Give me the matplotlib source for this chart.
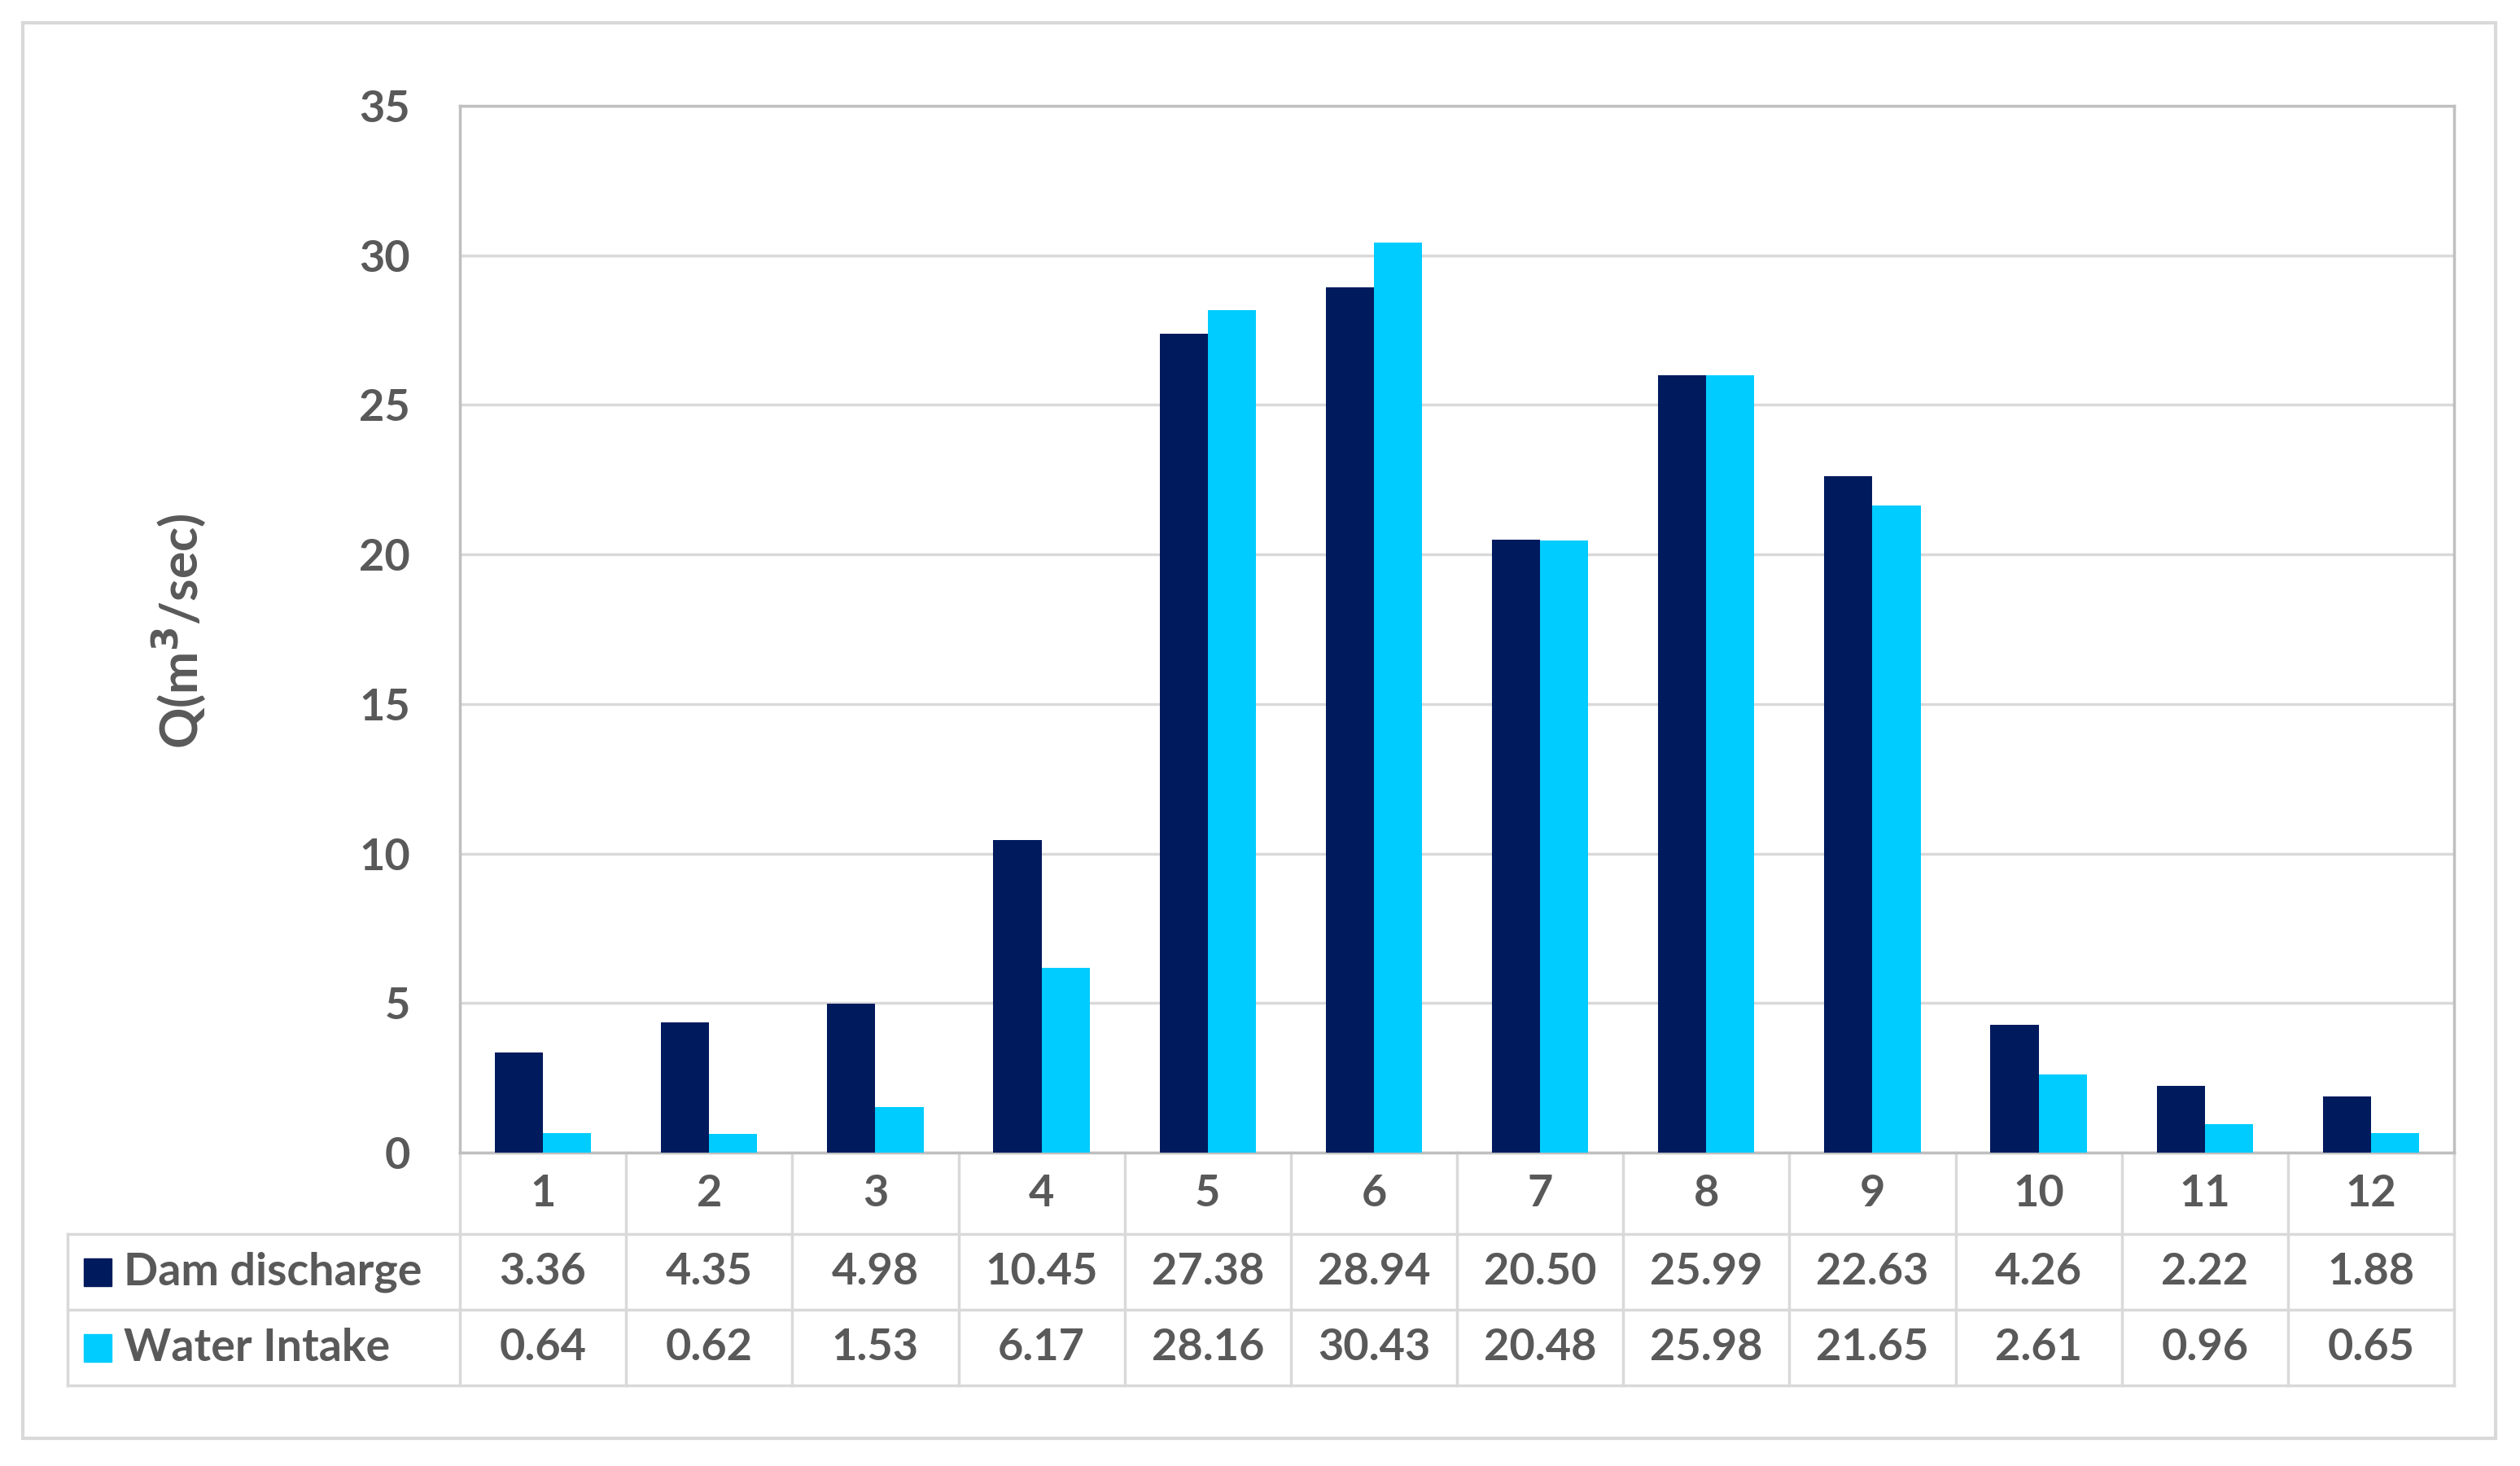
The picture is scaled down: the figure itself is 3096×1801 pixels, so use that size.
import matplotlib
matplotlib.use("Agg")
import matplotlib.pyplot as plt
import matplotlib.transforms as mtransforms
from matplotlib.lines import Line2D
from matplotlib.patches import Rectangle
import numpy as np

# ---- data ----
months = ["1", "2", "3", "4", "5", "6", "7", "8", "9", "10", "11", "12"]
dam_discharge = [3.36, 4.35, 4.98, 10.45, 27.38, 28.94, 20.50, 25.99, 22.63, 4.26, 2.22, 1.88]
water_intake = [0.64, 0.62, 1.53, 6.17, 28.16, 30.43, 20.48, 25.98, 21.65, 2.61, 0.96, 0.65]
series_names = ["Dam discharge", "Water Intake"]
y_ticks = [0, 5, 10, 15, 20, 25, 30, 35]

# ---- style ----
DARK = "#001A5E"
LIGHT = "#00CCFF"
TXT = "#595959"
GRID = "#D9D9D9"
BORDER = "#BFBFBF"
FONT = ["Lato", "DejaVu Sans"]
FS = 39

W, H = 3096, 1801
fig = plt.figure(figsize=(W / 100, H / 100), dpi=100)

def fx(px):
    return px / W

def fy(py):
    return 1 - py / H

left, right, top, bottom = 565, 3015, 130, 1416
ax = fig.add_axes([fx(left), fy(bottom), fx(right) - fx(left), fy(top) - fy(bottom)])

x = np.arange(len(months))
bw = 0.29
ax.bar(x - bw / 2, dam_discharge, width=bw, color=DARK, zorder=3)
ax.bar(x + bw / 2, water_intake, width=bw, color=LIGHT, zorder=3)

ax.set_xlim(-0.5, len(months) - 0.5)
ax.set_ylim(0, 35)
ax.set_yticks(y_ticks)
ax.set_yticklabels([str(t) for t in y_ticks], fontsize=FS, fontweight="bold",
                   color=TXT, family=FONT)
ax.tick_params(axis="y", length=0, pad=44)
ax.set_xticks([])
ax.yaxis.grid(True, color=GRID, linewidth=2.5, zorder=0)
for s in ["left", "top", "right", "bottom"]:
    ax.spines[s].set_color(BORDER)
    ax.spines[s].set_linewidth(2.5)

fig.text(fx(221), fy(775), "Q(m$\\mathbf{^3}$/sec)", rotation=90, ha="center", va="center",
         fontsize=45, fontweight="bold", color=TXT, family=FONT)

# ---- data table ----
tr = mtransforms.blended_transform_factory(ax.transData, fig.transFigure)
row_y = [1416, 1516, 1609, 1702]
edges = np.arange(len(months) + 1) - 0.5
tbl_left = 83
lw = 2.5

for ry in row_y[1:]:
    fig.add_artist(Line2D([fx(tbl_left), fx(right)], [fy(ry)] * 2, color=GRID, lw=lw))
fig.add_artist(Line2D([fx(tbl_left)] * 2, [fy(row_y[1]), fy(row_y[3])], color=GRID, lw=lw))
for e in edges:
    ax.plot([e, e], [fy(row_y[0]), fy(row_y[3])], color=GRID, lw=lw, transform=tr, clip_on=False)

def mid(a, b):
    return fy((a + b) / 2)

for i, m in enumerate(months):
    ax.text(x[i], mid(row_y[0], row_y[1]), m, transform=tr, ha="center", va="center",
            fontsize=FS, fontweight="bold", color=TXT, family=FONT)
    ax.text(x[i], mid(row_y[1], row_y[2]), f"{dam_discharge[i]:.2f}", transform=tr,
            ha="center", va="center", fontsize=FS, fontweight="bold", color=TXT, family=FONT)
    ax.text(x[i], mid(row_y[2], row_y[3]), f"{water_intake[i]:.2f}", transform=tr,
            ha="center", va="center", fontsize=FS, fontweight="bold", color=TXT, family=FONT)

colors = [DARK, LIGHT]
for k, name in enumerate(series_names):
    yc = (row_y[k + 1] + row_y[k + 2]) / 2
    sq = 34
    fig.add_artist(Rectangle((fx(103), fy(yc + sq / 2)), fx(sq), sq / H, color=colors[k],
                             transform=fig.transFigure))
    fig.text(fx(152), fy(yc), name, ha="left", va="center", fontsize=FS + 1, fontweight="bold",
             color=TXT, family=FONT)

# outer border
fig.add_artist(Rectangle((fx(28), fy(1767)), fx(3066) - fx(28), fy(28) - fy(1767),
                         fill=False, edgecolor=GRID, lw=3, transform=fig.transFigure))

fig.savefig("out.png", dpi=100)
